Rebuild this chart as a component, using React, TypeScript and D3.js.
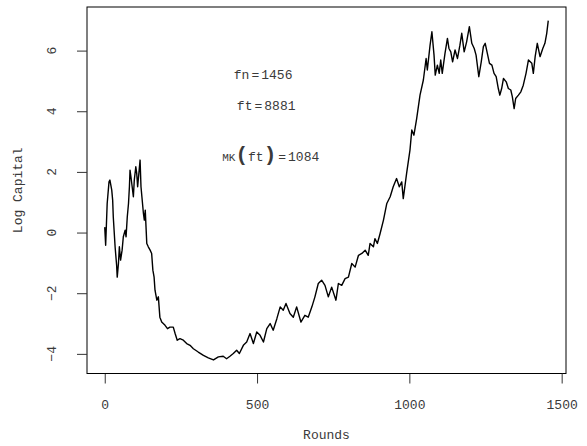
import React, { useEffect, useRef } from 'react'
import * as d3 from 'd3'

// values
const rounds = [
  0, 3, 8, 14, 17, 23, 26, 28, 34, 39, 41, 45, 48, 52, 57, 61, 67, 70, 74, 78,
  81, 83, 86, 90, 94, 97, 102, 105, 108, 113, 116, 119, 122, 127, 130, 133, 136, 138, 143, 149,
  154, 158, 162, 165, 171, 176, 181, 187, 198, 206, 214, 225, 231, 238, 247, 258, 269, 280, 291, 307,
  324, 340, 357, 373, 389, 400, 411, 422, 433, 442, 455, 466, 477, 488, 499, 510, 521, 532, 543, 553,
  565, 576, 586, 595, 608, 619, 630, 644, 657, 668, 680, 690, 701, 712, 723, 734, 745, 759, 767, 778,
  789, 800, 811, 822, 833, 844, 855, 865, 871, 882, 887, 895, 904, 915, 926, 937, 947, 958, 967, 975,
  980, 991, 1002, 1008, 1015, 1024, 1035, 1046, 1055, 1059, 1068, 1074, 1081, 1085, 1092, 1098, 1103, 1108, 1117, 1125,
  1130, 1136, 1142, 1150, 1158, 1166, 1172, 1180, 1188, 1197, 1205, 1213, 1219, 1228, 1236, 1243, 1249, 1256, 1263, 1271,
  1278, 1285, 1292, 1297, 1303, 1309, 1318, 1325, 1333, 1338, 1344, 1349, 1358, 1366, 1374, 1383, 1391, 1402, 1407, 1413,
  1420, 1429, 1438, 1445, 1451, 1456
]
const logCapital = [
  0.18, -0.42, 0.96, 1.67, 1.73, 1.40, 1.07, 0.52, -0.47, -1.08, -1.47, -1.02, -0.47, -0.91, -0.58, -0.14, 0.08, -0.14, 0.52, 0.96,
  1.51, 2.06, 1.84, 1.51, 1.18, 1.73, 2.17, 1.95, 1.51, 2.06, 2.39, 1.51, 1.18, 0.63, 0.41, 0.74, 0.08, -0.36, -0.47, -0.58,
  -0.69, -1.24, -1.47, -1.90, -2.23, -2.12, -2.79, -2.95, -3.06, -3.17, -3.12, -3.12, -3.33, -3.55, -3.50, -3.55, -3.66, -3.72, -3.83, -3.94,
  -4.05, -4.13, -4.20, -4.10, -4.08, -4.16, -4.08, -3.99, -3.88, -3.99, -3.72, -3.61, -3.33, -3.66, -3.28, -3.39, -3.61, -3.17, -3.00, -3.22,
  -2.84, -2.45, -2.56, -2.34, -2.67, -2.79, -2.45, -2.95, -2.73, -2.79, -2.45, -2.12, -1.68, -1.57, -1.74, -2.12, -1.80, -2.23, -1.68, -1.74,
  -1.52, -1.47, -1.02, -1.14, -0.75, -0.69, -0.58, -0.75, -0.36, -0.47, -0.20, -0.36, -0.03, 0.41, 0.96, 1.18, 1.51, 1.78, 1.51, 1.67,
  1.12, 1.95, 2.72, 3.38, 3.21, 3.76, 4.53, 5.03, 5.74, 5.36, 6.18, 6.62, 5.85, 5.19, 5.52, 5.25, 5.69, 5.25, 5.91, 6.40,
  6.07, 5.96, 5.63, 6.02, 5.74, 6.18, 6.57, 5.96, 6.29, 6.79, 6.24, 6.07, 5.85, 5.14, 5.63, 6.13, 6.24, 5.91, 5.58, 5.52,
  5.25, 5.14, 4.75, 4.53, 4.75, 5.08, 4.97, 4.75, 4.70, 4.48, 4.09, 4.42, 4.53, 4.64, 4.86, 5.25, 5.69, 5.58, 5.25, 5.80,
  6.24, 5.80, 6.07, 6.24, 6.57, 6.99
]
const xTicks = [0, 500, 1000, 1500]
const yTicks = [-4, -2, 0, 2, 4, 6]

const W = 587
const H = 446
const box = { left: 87, right: 566, top: 7, bottom: 373.5 }
const font = '"Liberation Mono", "DejaVu Sans Mono", monospace'
const ink = '#3a3a3a'

export default function App() {
  const ref = useRef<SVGSVGElement>(null)

  useEffect(() => {
    const svg = d3.select(ref.current)
    svg.selectAll('*').remove()

    const data = rounds.map((r, i) => ({ r, v: logCapital[i] }))

    // R style 4% padding on both scales
    const [x0, x1] = d3.extent(rounds) as [number, number]
    const xPad = (x1 - x0) * 0.04
    const x = d3.scaleLinear().domain([x0 - xPad, x1 + xPad]).range([box.left, box.right])

    const [y0, y1] = d3.extent(logCapital) as [number, number]
    const yPad = (y1 - y0) * 0.04
    const y = d3.scaleLinear().domain([y0 - yPad, y1 + yPad]).range([box.bottom, box.top])

    // frame
    svg.append('rect')
      .attr('x', box.left)
      .attr('y', box.top)
      .attr('width', box.right - box.left)
      .attr('height', box.bottom - box.top)
      .attr('fill', 'none')
      .attr('stroke', '#000')
      .attr('stroke-width', 1)

    // X axis
    const gx = svg.append('g')
      .attr('transform', `translate(0, ${box.bottom})`)
      .call(d3.axisBottom(x).tickValues(xTicks).tickSize(10).tickFormat(d3.format('d')))
    gx.select('.domain').remove()
    gx.selectAll('line').attr('stroke', '#333')
    gx.selectAll('text')
      .attr('y', 31)
      .attr('dy', '0.35em')
      .attr('font-family', font)
      .attr('font-size', 13)
      .attr('fill', ink)
    gx.append('line')
      .attr('x1', x(xTicks[0]))
      .attr('x2', x(xTicks[xTicks.length - 1]))
      .attr('stroke', '#000')

    // Y axis
    const gy = svg.append('g')
      .attr('transform', `translate(${box.left}, 0)`)
      .call(d3.axisLeft(y).tickValues(yTicks).tickSize(10))
    gy.select('.domain').remove()
    gy.selectAll('line').attr('stroke', '#333')
    gy.selectAll('text').remove()

    svg.append('g')
      .selectAll('text')
      .data(yTicks)
      .enter()
      .append('text')
      .attr('transform', d => `translate(51, ${y(d)}) rotate(-90)`)
      .attr('dy', '0.35em')
      .attr('text-anchor', 'middle')
      .attr('font-family', font)
      .attr('font-size', 13)
      .attr('fill', ink)
      .text(d => (d < 0 ? '\u2212' + Math.abs(d) : String(d)))

    // axis titles
    svg.append('text')
      .attr('x', (box.left + box.right) / 2)
      .attr('y', 434)
      .attr('dy', '0.35em')
      .attr('text-anchor', 'middle')
      .attr('font-family', font)
      .attr('font-size', 13)
      .attr('fill', ink)
      .text('Rounds')

    svg.append('text')
      .attr('transform', `translate(17, ${(box.top + box.bottom) / 2}) rotate(-90)`)
      .attr('dy', '0.35em')
      .attr('text-anchor', 'middle')
      .attr('font-family', font)
      .attr('font-size', 13)
      .attr('fill', ink)
      .text('Log Capital')

    // the capital path
    const line = d3.line<{ r: number; v: number }>()
      .x(d => x(d.r))
      .y(d => y(d.v))

    svg.append('path')
      .datum(data)
      .attr('fill', 'none')
      .attr('stroke', '#000')
      .attr('stroke-width', 1.4)
      .attr('stroke-linejoin', 'round')
      .attr('d', line)

    // annotations
    const note = (xv: number, yv: number) => svg.append('text')
      .attr('x', x(xv))
      .attr('y', y(yv))
      .attr('dy', '0.35em')
      .attr('text-anchor', 'middle')
      .attr('font-family', font)
      .attr('font-size', 13)
      .attr('fill', ink)

    const t1 = note(520, 5.2)
    t1.append('tspan').text('fn')
    t1.append('tspan').attr('dx', 2).text('=')
    t1.append('tspan').attr('dx', 2).text('1456')

    const t2 = note(530, 4.2)
    t2.append('tspan').text('ft')
    t2.append('tspan').attr('dx', 2).text('=')
    t2.append('tspan').attr('dx', 2).text('8881')

    const t3 = note(545, 2.5)
    t3.append('tspan').attr('font-size', 11).text('MK')
    t3.append('tspan').attr('font-size', 21).attr('font-weight', 'bold').text('(')
    t3.append('tspan').text('ft')
    t3.append('tspan').attr('font-size', 21).attr('font-weight', 'bold').text(')')
    t3.append('tspan').attr('dx', 2).text('=')
    t3.append('tspan').attr('dx', 2).text('1084')
  }, [])

  return (
    <svg ref={ref} width={W} height={H}
      style={{ position: 'absolute', left: 0, top: 0, background: '#fff' }}>
    </svg>
  )
}
